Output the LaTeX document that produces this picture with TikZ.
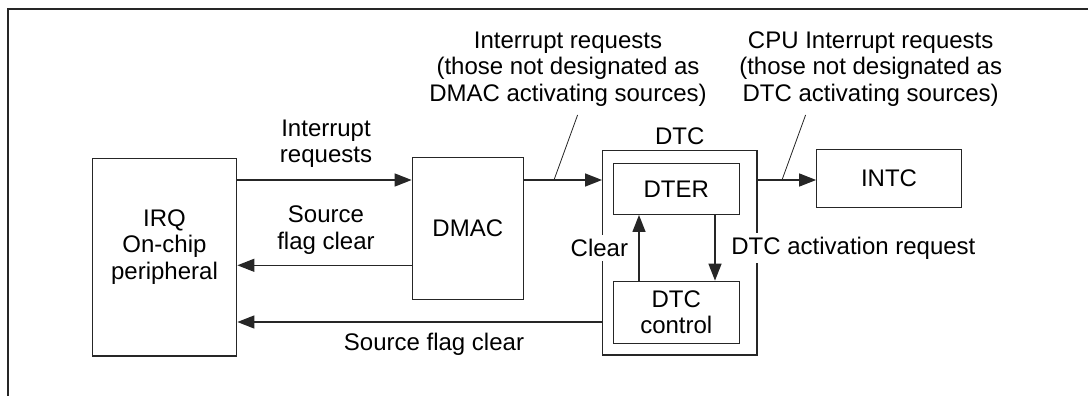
\documentclass[tikz,border=0pt]{standalone}
\usepackage{fontspec}
\setmainfont{Liberation Sans}
\usetikzlibrary{arrows.meta}
\tikzset{
  box/.style={draw=black!85, line width=1.3pt, inner sep=0pt},
  conn/.style={draw=black!85, line width=1.3pt},
  arr/.style={conn, -{Triangle[length=17pt,width=13pt]}},
  lbl/.style={align=center, inner sep=0pt, font=\fontsize{24pt}{26.5pt}\selectfont},
  wlbl/.style={lbl, fill=white, inner xsep=4pt, inner ysep=4pt},
  lead/.style={draw=black!85, line width=0.8pt},
}
\begin{document}
\begin{tikzpicture}[x=1pt,y=-1pt]
\useasboundingbox (0,0) rectangle (1088,396);
% frame
\coordinate (f0) at (1088,9);
\coordinate (f1) at (8,9);
\coordinate (f2) at (8,396);
\draw[draw=black!85, line width=1.4pt] (f0) -- (f1) -- (f2);
% boxes
\node[box, minimum width=144.4pt, minimum height=197.7pt] (irq) at (164.5,257.2) {};
\node[lbl] (irqt) at (164.5,247) {IRQ\\On-chip\\peripheral};
\node[box, minimum width=111pt, minimum height=141.6pt, lbl, draw=black!85, line width=1.3pt] (dmac) at (467.8,228.5) {DMAC};
\node[box, minimum width=154.2pt, minimum height=204.3pt] (dtc) at (679.8,252.8) {};
\node[lbl, anchor=south] (dtcl) at (679.8,145) {DTC};
\node[box, minimum width=126pt, minimum height=51pt, lbl, draw=black!85, line width=1.3pt] (dter) at (676.3,188.8) {DTER};
\node[box, minimum width=126pt, minimum height=62pt, lbl, draw=black!85, line width=1.3pt] (ctl) at (676.3,312.3) {DTC\\control};
\node[box, minimum width=144.4pt, minimum height=58pt, lbl, draw=black!85, line width=1.3pt] (intc) at (889,178.3) {INTC};
% connectors
\draw[arr] (irq.east |- 0,180) -- (dmac.west |- 0,180);
\draw[arr] (dmac.east |- 0,180) -- (dtc.west |- 0,180);
\draw[arr] (dtc.east |- 0,180) -- (intc.west |- 0,180);
\draw[arr] (dmac.west |- 0,265.3) -- (irq.east |- 0,265.3);
\draw[arr] (dtc.west |- 0,322) -- (irq.east |- 0,322);
\draw[arr] (ctl.north -| 639,0) -- (dter.south -| 639,0);
\draw[arr] (dter.south -| 715,0) -- (ctl.north -| 715,0);
% labels
\node[lbl] (l1) at (326,143.5) {Interrupt\\requests};
\node[lbl] (l2) at (326,230) {Source\\flag clear};
\node[lbl] (l3) at (434,344) {Source flag clear};
\node[wlbl] (l4) at (599.4,248.3) {Clear};
\node[wlbl] (l5) at (853.4,248.3) {DTC activation request};
\node[lbl] (t1) at (568,69) {Interrupt requests\\(those not designated as\\DMAC activating sources)};
\node[lbl] (t2) at (870.7,69) {CPU Interrupt requests\\(those not designated as\\DTC activating sources)};
% leaders
\coordinate (a1) at (554,180);
\coordinate (b1) at (577.6,115);
\coordinate (a2) at (782,180);
\coordinate (b2) at (805.6,115);
\draw[lead] (a1) -- (b1);
\draw[lead] (a2) -- (b2);
\end{tikzpicture}
\end{document}
